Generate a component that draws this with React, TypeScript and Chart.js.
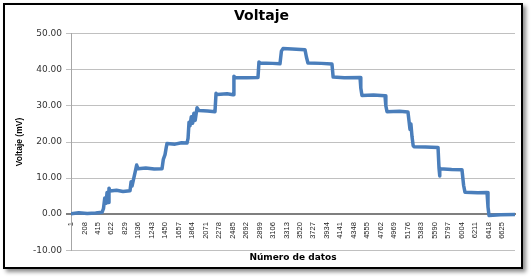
import React, { useEffect, useRef } from "react";
import { Chart, registerables } from "chart.js";

Chart.register(...registerables);

// Data point index (Número de datos) and voltage (mV)
const sampleIndex = [
  1, 120, 250, 380, 478, 500, 520, 540, 555, 570, 585, 600, 700, 800, 908, 925, 940, 960, 985, 1010,
  1031, 1150, 1280, 1400, 1420, 1446, 1465, 1477, 1600, 1700, 1784, 1800, 1815, 1830, 1850, 1870, 1890, 1910, 1938, 1968,
  2100, 2214, 2230, 2245, 2400, 2491, 2505, 2522, 2700, 2875, 2890, 2906, 3100, 3213, 3235, 3259, 3400, 3597, 3620, 3643,
  3850, 4012, 4030, 4200, 4443, 4455, 4473, 4650, 4827, 4840, 4858, 5050, 5180, 5195, 5211, 5225, 5242, 5260, 5273, 5450,
  5642, 5657, 5665, 5672, 5850, 6010, 6035, 6056, 6250, 6395, 6410, 6426, 6600, 6825,
];
const voltage = [
  0.1, 0.4, 0.2, 0.3, 0.5, 1.5, 4.5, 3.0, 6.0, 3.2, 7.2, 6.4, 6.6, 6.3, 6.5, 9.0, 7.8, 9.5, 11.5, 13.6,
  12.6, 12.8, 12.5, 12.6, 15.2, 16.5, 18.5, 19.6, 19.4, 19.8, 19.7, 21.0, 25.5, 24.5, 27.0, 25.2, 28.0, 26.0, 29.5, 28.7,
  28.6, 28.4, 33.5, 33.2, 33.4, 33.1, 38.2, 37.9, 37.8, 37.9, 42.2, 41.9, 41.8, 41.7, 45.2, 45.9, 45.8, 45.6, 43.5, 41.9,
  41.8, 41.6, 38.0, 37.8, 37.9, 35.0, 32.9, 33.0, 32.8, 30.0, 28.4, 28.5, 28.3, 26.0, 23.5, 25.0, 21.5, 19.0, 18.7, 18.6,
  18.5, 12.8, 10.6, 12.6, 12.4, 12.3, 8.0, 6.1, 5.9, 6.0, 2.0, -0.4, -0.2, -0.1,
];
const xTickLabels = [
  1, 208, 415, 622, 829, 1036, 1243, 1450, 1657, 1864, 2071, 2278, 2485, 2692, 2899, 3106, 3313,
  3520, 3727, 3934, 4141, 4348, 4555, 4762, 4969, 5176, 5383, 5590, 5797, 6004, 6211, 6418, 6625,
];
const X_MIN = 1;
const X_MAX = 6825;
const Y_MIN = -10;
const Y_MAX = 50;
const chartTitle = "Voltaje";
const xTitle = "Número de datos";
const yTitle = "Voltaje (mV)";

export default function App() {
  const ref = useRef<HTMLCanvasElement | null>(null);
  useEffect(() => {
    if (!ref.current) return;
    const points = sampleIndex.map((x, i) => ({ x, y: voltage[i] }));
    const chart = new Chart(ref.current, {
      type: "line",
      data: {
        datasets: [
          {
            data: points,
            borderColor: "#4a7ebb",
            borderWidth: 3.5,
            pointRadius: 0,
            tension: 0,
            borderJoinStyle: "round",
            borderCapStyle: "round",
          },
        ],
      },
      options: {
        animation: false,
        responsive: false,
        layout: { padding: { left: 8, right: 16, top: 0, bottom: 12 } },
        plugins: {
          legend: { display: false },
          tooltip: { enabled: false },
          title: {
            display: true,
            text: chartTitle,
            color: "#000",
            font: { family: "'DejaVu Sans', sans-serif", size: 14, weight: "bold" },
            padding: { top: 8, bottom: 9 },
          },
          subtitle: {
            display: true,
            position: "bottom",
            fullSize: false,
            text: xTitle,
            color: "#000",
            font: { family: "'DejaVu Sans', sans-serif", size: 9, weight: "bold" },
            padding: { top: 2, bottom: 4 },
          },
        },
        scales: {
          x: {
            type: "linear",
            min: X_MIN,
            max: X_MAX,
            position: { y: 0 },
            grid: { display: false, drawTicks: false },
            border: { display: true, color: "#7f7f7f", width: 2 },
            afterBuildTicks: (scale: any) => {
              scale.ticks = xTickLabels.map((v) => ({ value: v }));
            },
            afterCalculateLabelRotation: (scale: any) => {
              scale.labelRotation = 90;
            },
            ticks: {
              autoSkip: false,
              minRotation: 90,
              maxRotation: 90,
              padding: 8,
              color: "#222",
              font: { family: "'Liberation Sans', sans-serif", size: 7.5 },
              callback: (v: any) => String(v),
            },
          },
          y: {
            type: "linear",
            min: Y_MIN,
            max: Y_MAX,
            afterFit: (scale: any) => {
              scale.width = 63;
            },
            grid: {
              color: (ctx: any) => (ctx.tick && ctx.tick.value === 0 ? "#7f7f7f" : "#c0c0c0"),
              lineWidth: (ctx: any) => (ctx.tick && ctx.tick.value === 0 ? 2 : 1),
              tickLength: 5,
            },
            border: { display: true, color: "#a6a6a6", width: 1 },
            ticks: {
              stepSize: 10,
              padding: 4,
              color: "#333",
              font: { family: "'DejaVu Sans', sans-serif", size: 9 },
              callback: (v: any) => Number(v).toFixed(2),
            },
            title: {
              display: true,
              text: yTitle,
              color: "#000",
              font: { family: "'Liberation Sans', sans-serif", size: 8.5, weight: "bold" },
              padding: { top: 7, bottom: 0 },
            },
          },
        },
      } as any,
    });
    return () => chart.destroy();
  }, []);

  return (
    <div style={{ position: "fixed", left: 0, top: 0, width: 531, height: 279, background: "#fff" }}>
      <div
        style={{
          position: "absolute",
          left: 3,
          top: 3,
          width: 520,
          height: 266,
          boxSizing: "border-box",
          border: "2px solid #000",
          boxShadow: "3px 3px 4px rgba(0,0,0,0.45)",
          background: "#fff",
        }}
      />
      <canvas ref={ref} width={531} height={279} style={{ position: "absolute", left: 0, top: 0 }} />
    </div>
  );
}
